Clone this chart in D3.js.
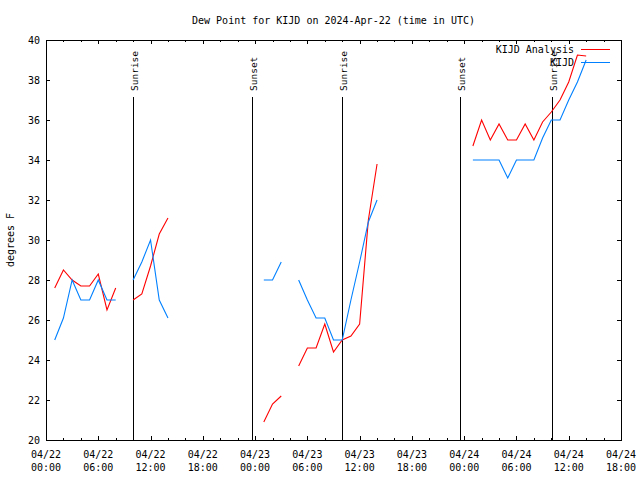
<!DOCTYPE html>
<html>
<head>
<meta charset="utf-8">
<script src="https://cdn.jsdelivr.net/npm/d3@7"></script>
<style>
  html, body { margin: 0; padding: 0; background: #fff; }
  text { font-family: "DejaVu Sans Mono", "Liberation Mono", monospace; fill: #000; }
</style>
</head>
<body>
<div id="chart"></div>
<script>
// hours after 2024-04-22 00:00 UTC where each run of data starts
const segStartHours = [1, 10, 25, 29, 49];

// KIJD Analysis (red), deg F, hourly
const analysisSegs = [
    [27.6, 28.5, 28.0, 27.7, 27.7, 28.3, 26.5, 27.6],
    [27.0, 27.3, 28.7, 30.3, 31.1],
    [20.9, 21.8, 22.2],
    [23.7, 24.6, 24.6, 25.8, 24.4, 25.0, 25.2, 25.8, 31.0, 33.8],
    [34.7, 36.0, 35.0, 35.8, 35.0, 35.0, 35.8, 35.0, 35.9, 36.4, 37.0, 37.9, 39.25, 39.2]
];

// KIJD observations (blue), deg F, hourly
const obsSegs = [
    [25.0, 26.1, 28.0, 27.0, 27.0, 28.0, 27.0, 27.0],
    [28.0, 28.9, 30.0, 27.0, 26.1],
    [28.0, 28.0, 28.9],
    [28.0, 27.0, 26.1, 26.1, 25.0, 25.0, 27.0, 28.9, 30.9, 32.0],
    [34.0, 34.0, 34.0, 34.0, 33.1, 34.0, 34.0, 34.0, 35.1, 36.0, 36.0, 37.0, 37.9, 39.0]
];

const sunEvents = ["Sunrise", "Sunset", "Sunrise", "Sunset", "Sunrise"];
const sunTimes = ["2024-04-22T10:00Z", "2024-04-22T23:36Z", "2024-04-23T10:00Z",
                  "2024-04-23T23:34Z", "2024-04-24T10:02Z"];

const yTicks = [20, 22, 24, 26, 28, 30, 32, 34, 36, 38, 40];
const seriesNames = ["KIJD Analysis", "KIJD"];
const seriesColors = ["#ff0000", "#0080ff"];

const width = 640, height = 480;
const margin = { top: 40, right: 19, bottom: 40, left: 46 };

const t0 = new Date("2024-04-22T00:00Z");
const t1 = new Date("2024-04-24T18:00Z");
const hourToDate = h => new Date(t0.getTime() + h * 3600e3);

// flatten runs into one list with a null between runs so the line breaks
function toPoints(segs) {
    const pts = [];
    segs.forEach((seg, i) => {
        seg.forEach((v, j) => pts.push({ t: hourToDate(segStartHours[i] + j), v: v }));
        pts.push({ t: null, v: null });
    });
    return pts;
}

const svg = d3.select("#chart").append("svg")
    .attr("width", width)
    .attr("height", height);

const x = d3.scaleUtc().domain([t0, t1]).range([margin.left, width - margin.right]);
const y = d3.scaleLinear().domain([20, 40]).range([height - margin.bottom, margin.top]);

const majorTicks = d3.utcHour.every(6).range(t0, new Date(t1.getTime() + 1));
const minorTicks = d3.utcHour.every(2).range(t0, new Date(t1.getTime() + 1));

function tidy(g) {
    g.select(".domain").remove();
    g.selectAll("line").attr("stroke", "#000").attr("shape-rendering", "crispEdges");
}

// bottom & top ticks (inward)
svg.append("g").attr("transform", `translate(0,${y(20)})`)
    .call(d3.axisBottom(x).tickValues(minorTicks).tickSize(-2).tickFormat("")).call(tidy);
svg.append("g").attr("transform", `translate(0,${y(20)})`)
    .call(d3.axisBottom(x).tickValues(majorTicks).tickSize(-4).tickFormat("")).call(tidy);
svg.append("g").attr("transform", `translate(0,${y(40)})`)
    .call(d3.axisTop(x).tickValues(minorTicks).tickSize(-2).tickFormat("")).call(tidy);
svg.append("g").attr("transform", `translate(0,${y(40)})`)
    .call(d3.axisTop(x).tickValues(majorTicks).tickSize(-4).tickFormat("")).call(tidy);

// left & right ticks
const yl = svg.append("g").attr("transform", `translate(${x(t0)},0)`)
    .call(d3.axisLeft(y).tickValues(yTicks).tickSize(-4).tickPadding(6).tickFormat(d3.format("d")))
    .call(tidy);
yl.selectAll("text")
    .attr("font-family", null).attr("font-size", 10).attr("dy", "0.38em");
yl.attr("font-family", null);
svg.append("g").attr("transform", `translate(${x(t1)},0)`)
    .call(d3.axisRight(y).tickValues(yTicks).tickSize(-4).tickFormat("")).call(tidy);

// two-line time labels
const fmtDay = d3.utcFormat("%m/%d"), fmtHour = d3.utcFormat("%H:%M");
const xl = svg.append("g").attr("font-size", 10).attr("text-anchor", "middle");
majorTicks.forEach(d => {
    const tx = xl.append("text").attr("x", x(d));
    tx.append("tspan").attr("x", x(d)).attr("y", 458).text(fmtDay(d));
    tx.append("tspan").attr("x", x(d)).attr("y", 471).text(fmtHour(d));
});

// sunrise / sunset markers
sunTimes.forEach((s, i) => {
    const xx = Math.round(x(new Date(s))) + 0.5;
    svg.append("line")
        .attr("x1", xx).attr("x2", xx)
        .attr("y1", 97).attr("y2", y(20))
        .attr("stroke", "#000").attr("stroke-width", 1);
    svg.append("text")
        .attr("transform", `translate(${xx + 4.5},91) rotate(-90)`)
        .attr("font-size", 9.5)
        .text(sunEvents[i]);
});

// data lines
const line = d3.line()
    .defined(d => d.v !== null)
    .x(d => x(d.t))
    .y(d => y(d.v));

[analysisSegs, obsSegs].forEach((segs, i) => {
    svg.append("path")
        .datum(toPoints(segs))
        .attr("fill", "none")
        .attr("stroke", seriesColors[i])
        .attr("stroke-width", 1.1)
        .attr("d", line);
});

// plot border
svg.append("rect")
    .attr("x", x(t0) + 0.5).attr("y", y(40) + 0.5)
    .attr("width", x(t1) - x(t0)).attr("height", y(20) - y(40))
    .attr("fill", "none").attr("stroke", "#000")
    .attr("shape-rendering", "crispEdges");

// legend
seriesNames.forEach((name, i) => {
    const ly = 49 + i * 13;
    svg.append("text")
        .attr("x", 574).attr("y", ly + 4)
        .attr("text-anchor", "end").attr("font-size", 10)
        .text(name);
    svg.append("line")
        .attr("x1", 581).attr("x2", 610)
        .attr("y1", ly + 0.5).attr("y2", ly + 0.5)
        .attr("stroke", seriesColors[i]).attr("stroke-width", 1);
});

// title and y label
svg.append("text")
    .attr("x", (x(t0) + x(t1)) / 2).attr("y", 24)
    .attr("text-anchor", "middle").attr("font-size", 10)
    .text("Dew Point for KIJD on 2024-Apr-22 (time in UTC)");

svg.append("text")
    .attr("transform", `translate(14,${(y(20) + y(40)) / 2}) rotate(-90)`)
    .attr("text-anchor", "middle").attr("font-size", 10)
    .text("degrees F");
</script>
</body>
</html>
